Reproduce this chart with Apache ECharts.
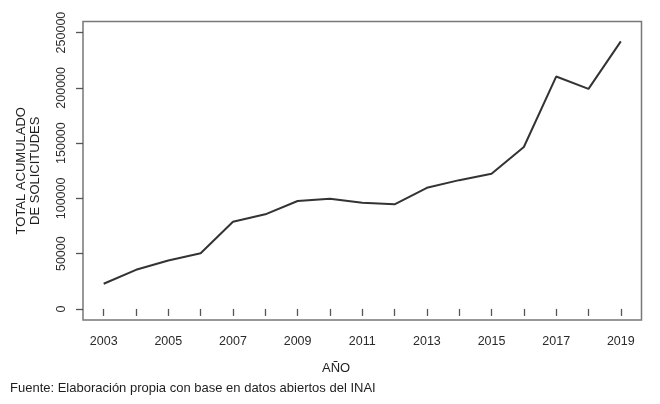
<!DOCTYPE html>
<html>
<head>
<meta charset="utf-8">
<script src="https://cdn.jsdelivr.net/npm/echarts@6/dist/echarts.min.js"></script>
<style>html,body{margin:0;padding:0;background:#fff}#c{width:660px;height:404px}</style>
</head>
<body>
<div id="c"></div>
<script>
const years = [2003,2004,2005,2006,2007,2008,2009,2010,2011,2012,2013,2014,2015,2016,2017,2018,2019];
const totals = [22800,35400,43800,50400,78900,85600,97600,99600,96000,94600,109600,116500,122200,146500,210200,199100,242000];
const xTickLabels = [2003,2005,2007,2009,2011,2013,2015,2017,2019];
const yTickValues = [0,50000,100000,150000,200000,250000];
const yTitle = 'TOTAL ACUMULADO\nDE SOLICITUDES';
const xTitle = 'AÑO';
const caption = 'Fuente: Elaboración propia con base en datos abiertos del INAI';

const font = 'Liberation Sans, Arial, sans-serif';
const chart = echarts.init(document.getElementById('c'));
chart.setOption({
  animation: false,
  grid: {left: 83, right: 18.5, top: 21.5, bottom: 84, show: true, borderColor: '#777', borderWidth: 1.5, backgroundColor: 'transparent'},
  xAxis: {
    type: 'value', min: 2002.36, max: 2019.64,
    axisLine: {show: false},
    splitLine: {show: false},
    axisTick: {show: true, customValues: years, length: 7, lineStyle: {color: '#555', width: 1.3}},
    axisLabel: {customValues: xTickLabels, margin: 15, fontSize: 12.5, color: '#2a2a2a', fontFamily: font, formatter: v => String(v)}
  },
  yAxis: {
    type: 'value', min: -10000, max: 260000,
    name: yTitle, nameLocation: 'middle', nameRotate: 90, nameGap: 41,
    nameTextStyle: {fontSize: 13, color: '#1e1e1e', fontFamily: font, lineHeight: 14},
    axisLine: {show: false},
    splitLine: {show: false},
    axisTick: {show: true, customValues: yTickValues, length: 7, lineStyle: {color: '#555', width: 1.3}},
    axisLabel: {customValues: yTickValues, rotate: 90, margin: 15, fontSize: 12.5, color: '#2a2a2a', fontFamily: font, formatter: v => String(v)}
  },
  graphic: [
    {type: 'text', left: 322, top: 362, style: {text: xTitle, fill: '#1e1e1e', font: '13px ' + font}},
    {type: 'text', left: 10, top: 382, style: {text: caption, fill: '#1e1e1e', font: '13px ' + font}}
  ],
  series: [{
    type: 'line',
    data: years.map((y, i) => [y, totals[i]]),
    showSymbol: false,
    lineStyle: {color: '#333', width: 2},
    clip: false
  }]
});
</script>
</body>
</html>
